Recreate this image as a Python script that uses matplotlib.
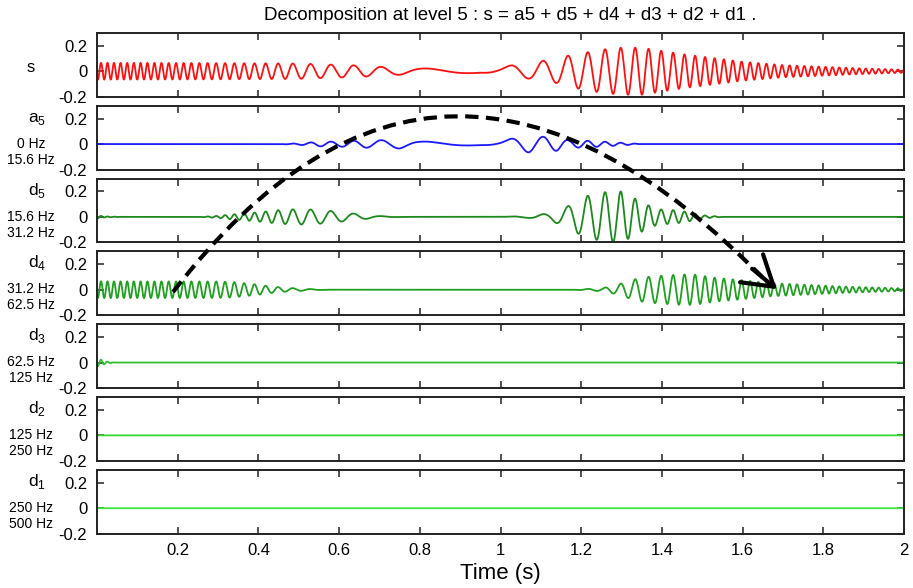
import numpy as np
import matplotlib
matplotlib.use("Agg")
import matplotlib.pyplot as plt
from matplotlib.path import Path
from matplotlib.patches import PathPatch, FancyArrowPatch

plt.rcParams['font.family'] = ['Liberation Sans', 'DejaVu Sans']
plt.rcParams['mathtext.fontset'] = 'custom'
plt.rcParams['mathtext.rm'] = 'Liberation Sans'

# ---------------------- DATA ----------------------
fs = 1000                       # 1000 Hz sampling, 2 s of signal
t = np.arange(0, 2000) / fs

# local frequency of the signal (Hz), read from the spacing of the peaks
freq_t = [0.0, 0.1, 0.2, 0.3, 0.4, 0.45, 0.5, 0.55, 0.6, 0.65, 0.7, 0.75, 0.8, 0.9,
          1.0, 1.05, 1.1, 1.15, 1.2, 1.25, 1.3, 1.35, 1.4, 1.45, 1.5, 1.6, 1.7, 1.8, 1.9, 2.0]
freq_hz = [63, 60, 54, 46, 37, 30, 23, 20, 18, 16, 13, 10, 6, 3,
           6, 12, 14, 17, 21, 24, 27, 30, 33, 36, 41, 47, 53, 58, 62, 64]

# envelopes (peak heights) of each row
s_env_t = [0.0, 0.1, 0.2, 0.3, 0.4, 0.5, 0.6, 0.65, 0.7, 0.75, 0.8, 0.9, 0.95, 1.0, 1.03,
           1.07, 1.1, 1.14, 1.17, 1.2, 1.25, 1.3, 1.35, 1.4, 1.45, 1.5, 1.6, 1.7, 1.8, 1.9, 2.0]
s_env = [0.066, 0.066, 0.065, 0.064, 0.062, 0.06, 0.05, 0.045, 0.035, 0.028, 0.022, 0.02, 0.012,
         0.03, 0.048, 0.058, 0.08, 0.093, 0.125, 0.14, 0.17, 0.185, 0.185, 0.16, 0.135, 0.115,
         0.075, 0.048, 0.035, 0.022, 0.012]

a5_env_t = [0.0, 0.45, 0.5, 0.55, 0.6, 0.65, 0.7, 0.75, 0.8, 0.9, 0.95, 1.0, 1.03, 1.07,
            1.1, 1.14, 1.17, 1.2, 1.25, 1.3, 1.35, 2.0]
a5_env = [0.0, 0.0, 0.006, 0.018, 0.02, 0.028, 0.03, 0.035, 0.02, 0.015, 0.008, 0.02,
          0.045, 0.066, 0.058, 0.053, 0.028, 0.028, 0.02, 0.01, 0.0, 0.0]

d5_env_t = [0.0, 0.02, 0.06, 0.25, 0.3, 0.33, 0.37, 0.41, 0.45, 0.48, 0.52, 0.57, 0.63, 0.69,
            0.75, 1.0, 1.07, 1.12, 1.14, 1.165, 1.19, 1.215, 1.26, 1.3, 1.33, 1.36, 1.39, 1.43,
            1.46, 1.5, 1.55, 2.0]
d5_env = [0.012, 0.004, 0.0, 0.0, 0.008, 0.018, 0.028, 0.04, 0.053, 0.059, 0.06, 0.05, 0.028,
          0.008, 0.0, 0.0, 0.008, 0.027, 0.05, 0.08, 0.128, 0.165, 0.195, 0.2, 0.15, 0.1, 0.06,
          0.053, 0.04, 0.013, 0.0, 0.0]

d4_env_t = [0.0, 0.3, 0.34, 0.37, 0.4, 0.42, 0.445, 0.47, 0.5, 0.53, 0.57, 1.18, 1.25, 1.28,
            1.3, 1.33, 1.36, 1.4, 1.45, 1.48, 1.53, 1.6, 1.67, 1.75, 1.85, 1.95, 2.0]
d4_env = [0.066, 0.065, 0.06, 0.05, 0.04, 0.03, 0.022, 0.015, 0.01, 0.005, 0.0, 0.0, 0.012,
          0.03, 0.05, 0.08, 0.1, 0.11, 0.12, 0.12, 0.095, 0.075, 0.052, 0.04, 0.025, 0.015, 0.01]

d3_env_t = [0.0, 0.01, 0.02, 0.03, 0.045, 2.0]
d3_env = [0.03, 0.022, 0.012, 0.005, 0.0, 0.0]

# d2 and d1 are flat at zero
d2_env_t = [0.0, 2.0]
d2_env = [0.0, 0.0]
d1_env_t = [0.0, 2.0]
d1_env = [0.0, 0.0]

row_names = ["s", "a$_5$", "d$_5$", "d$_4$", "d$_3$", "d$_2$", "d$_1$"]
row_bands = [None, ("0 Hz", "15.6 Hz"), ("15.6 Hz", "31.2 Hz"), ("31.2 Hz", "62.5 Hz"),
             ("62.5 Hz", "125 Hz"), ("125 Hz", "250 Hz"), ("250 Hz", "500 Hz")]
row_colors = ["#ff1010", "#1a1aff", "#1c8a1c", "#20a020", "#2fbf2f", "#33d933", "#3ce83c"]

xtick_vals = [0.2, 0.4, 0.6, 0.8, 1.0, 1.2, 1.4, 1.6, 1.8, 2.0]
xtick_text = ["0.2", "0.4", "0.6", "0.8", "1", "1.2", "1.4", "1.6", "1.8", "2"]
ytick_vals = [-0.2, 0, 0.2]
ytick_text = ["-0.2", "0", "0.2"]

# ---------------------- BUILD THE CURVES ----------------------
# shared carrier phase, lined up so a crest of s sits at t = 1.298 s
phase = 2 * np.pi * np.cumsum(np.interp(t, freq_t, freq_hz)) / fs
phase = phase + np.pi / 2 - np.interp(1.298, t, phase)
carrier = np.sin(phase)

envs = [(s_env_t, s_env), (a5_env_t, a5_env), (d5_env_t, d5_env), (d4_env_t, d4_env),
        (d3_env_t, d3_env), (d2_env_t, d2_env), (d1_env_t, d1_env)]
rows = [np.interp(t, et, ev) * carrier for et, ev in envs]

# ---------------------- FIGURE ----------------------
W, H = 913, 588
fig = plt.figure(figsize=(W / 100, H / 100), dpi=100)

left, right = 97, 904
top0, pitch, ph = 33, 72.83, 63.7

axes = []
for i, y in enumerate(rows):
    top = top0 + pitch * i
    ax = fig.add_axes([left / W, 1 - (top + ph) / H, (right - left) / W, ph / H])
    ax.plot(t, y, color=row_colors[i], lw=1.3)
    ax.set_xlim(0, 2)
    ax.set_ylim(-0.2, 0.3)
    ax.set_yticks(ytick_vals)
    ax.set_yticklabels(ytick_text, fontsize=12)
    ax.set_xticks(xtick_vals)
    if i == len(rows) - 1:
        ax.set_xticklabels(xtick_text, fontsize=12)
    else:
        ax.set_xticklabels([])
    ax.tick_params(direction="in", length=5, width=1.1, top=True, right=True,
                   color="#222222", pad=7)
    for sp in ax.spines.values():
        sp.set_linewidth(1.4)
        sp.set_color("#222222")
    axes.append(ax)

    # row names on the left
    if row_bands[i] is None:
        fig.text(31 / W, 1 - (top + 34) / H, row_names[i], ha="center", va="center", fontsize=12)
    else:
        fig.text(37 / W, 1 - (top + 16) / H, row_names[i], ha="center", va="baseline", fontsize=12.5)
        fig.text(31 / W, 1 - (top + 38) / H, row_bands[i][0], ha="center", va="center", fontsize=10)
        fig.text(31 / W, 1 - (top + 54) / H, row_bands[i][1], ha="center", va="center", fontsize=10)

axes[-1].set_xlabel("Time (s)", fontsize=16, labelpad=3)
fig.text(510 / W, 1 - 15 / H,
         "Decomposition at level 5 : s = a5 + d5 + d4 + d3 + d2 + d1 .",
         ha="center", va="center", fontsize=13.5)

# ---------------------- DASHED ARROW ----------------------
def fp(x, y):
    return (x / W, 1 - y / H)

p0, p1, p2 = fp(173, 292), fp(440, -55), fp(768, 283)
arc = Path([p0, p1, p2], [Path.MOVETO, Path.CURVE3, Path.CURVE3])
fig.patches.append(PathPatch(arc, transform=fig.transFigure, fill=False, lw=3,
                             color="black", linestyle=(0, (3.2, 1.8)), capstyle="butt"))
fig.patches.append(FancyArrowPatch(fp(750, 267), fp(779, 291), transform=fig.transFigure,
                                   arrowstyle="->,head_length=8,head_width=5",
                                   lw=3, color="black", mutation_scale=2.6))

fig.savefig("out.png", dpi=100)
